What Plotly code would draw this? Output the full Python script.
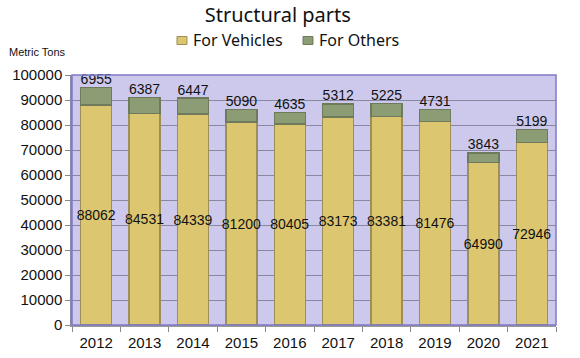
import plotly.graph_objects as go

years = ["2012", "2013", "2014", "2015", "2016", "2017", "2018", "2019", "2020", "2021"]
vehicles = [88062, 84531, 84339, 81200, 80405, 83173, 83381, 81476, 64990, 72946]
others = [6955, 6387, 6447, 5090, 4635, 5312, 5225, 4731, 3843, 5199]
y_ticks = [0, 10000, 20000, 30000, 40000, 50000, 60000, 70000, 80000, 90000, 100000]
series_names = ["For Vehicles", "For Others"]
series_colors = ["#dcc670", "#8c9c74"]
series_edges = ["#9c9058", "#6e7a5c"]

totals = [v + o for v, o in zip(vehicles, others)]

fig = go.Figure()
fig.add_trace(go.Bar(
    x=years, y=vehicles, name=series_names[0], showlegend=False,
    marker=dict(color=series_colors[0], line=dict(color=series_edges[0], width=1.5)),
    text=[str(v) for v in vehicles], textposition="inside", insidetextanchor="middle",
    textangle=0, constraintext="none",
    textfont=dict(family="Liberation Sans, Arial", size=14, color="#111111"),
    width=0.64,
))
fig.add_trace(go.Bar(
    x=years, y=others, name=series_names[1], showlegend=False,
    marker=dict(color=series_colors[1], line=dict(color=series_edges[1], width=1.5)),
    width=0.64,
))
fig.add_trace(go.Scatter(
    x=years, y=totals, mode="text", text=[str(o) for o in others],
    textposition="top center", showlegend=False, hoverinfo="skip", cliponaxis=False,
    textfont=dict(family="Liberation Sans, Arial", size=14, color="#111111"),
))

fig.update_layout(
    barmode="stack",
    width=580, height=358,
    margin=dict(l=72, r=24, t=75, b=33, autoexpand=False),
    paper_bgcolor="white",
    plot_bgcolor="#cdc9ec",
    title=dict(text="Structural parts", x=0.479, xanchor="center", y=0.958, yanchor="middle",
               font=dict(family="Noto Sans, Lato", size=20, color="#111111")),
    showlegend=False,
)

# manual legend (compact like the reference)
leg_sq_x = [(0.2169, 0.2376), (0.4773, 0.4979)]
leg_tx_x = [0.246, 0.506]
for i in range(2):
    fig.add_shape(type="rect", xref="paper", yref="paper",
                  x0=leg_sq_x[i][0], x1=leg_sq_x[i][1], y0=1.122, y1=1.154,
                  fillcolor=series_colors[i], line=dict(color=series_edges[i], width=1))
    fig.add_annotation(text=series_names[i], xref="paper", yref="paper",
                       x=leg_tx_x[i], y=1.14, xanchor="left", yanchor="middle",
                       showarrow=False,
                       font=dict(family="Noto Sans, Lato", size=16, color="#111111"))

fig.add_annotation(text="Metric Tons", xref="paper", yref="paper", x=-0.135, y=1.092,
                   xanchor="left", yanchor="middle", showarrow=False,
                   font=dict(family="Liberation Sans, Arial", size=11, color="#111111"))

fig.update_yaxes(range=[0, 100000], tickvals=y_ticks, ticktext=[str(t) for t in y_ticks],
                 ticks="outside", ticklen=5, automargin=False,
                 tickcolor="#888888", showgrid=True, gridcolor="#8a88a0", gridwidth=1,
                 showline=True, linecolor="#8888aa", linewidth=1.5, mirror=False,
                 tickfont=dict(family="Liberation Sans, Arial", size=15, color="#111111"),
                 zeroline=False)
fig.update_xaxes(ticks="outside", tickson="boundaries", ticklen=5, tickcolor="#888888",
                 showline=True, linecolor="#999999", linewidth=1.5, automargin=False,
                 ticklabelstandoff=3,
                 tickfont=dict(family="Liberation Sans, Arial", size=15, color="#111111"))

fig.add_shape(type="rect", xref="paper", yref="paper", x0=0, x1=1, y0=0, y1=1,
              line=dict(color="#7f7ac8", width=1.5), layer="above")

fig.write_html("out.html", config={"displayModeBar": False},
               post_script="document.body.style.margin='0';document.body.style.padding='0';")
